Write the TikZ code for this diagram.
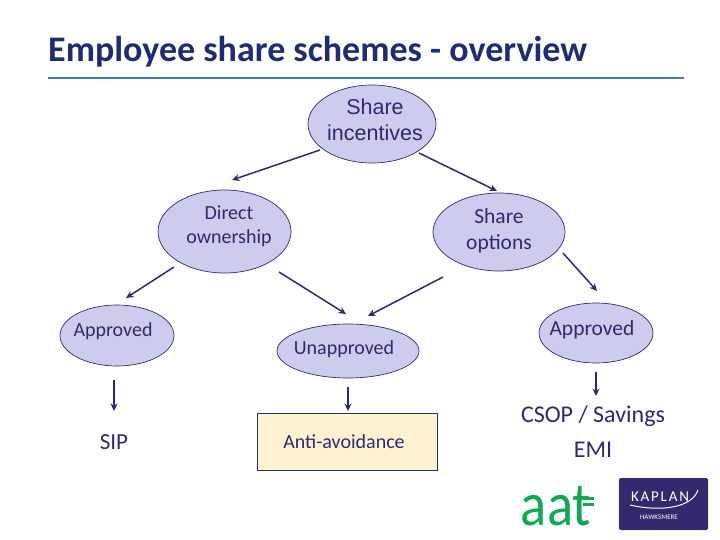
\documentclass[tikz,border=0pt]{standalone}
\usepackage{fontspec}
\setmainfont{Carlito}
\newfontfamily\arialfont{Liberation Sans}
\usetikzlibrary{shapes.geometric,arrows.meta}
\definecolor{navytext}{HTML}{2D2A70}
\definecolor{titleblue}{HTML}{1F2C72}
\definecolor{rulecol}{HTML}{3F80A0}
\definecolor{ovalfill}{HTML}{CCCCEE}
\definecolor{boxfill}{HTML}{FFF2D0}
\definecolor{aatgreen}{HTML}{10A850}
\definecolor{kaplanblue}{HTML}{35286E}
\tikzset{
  oval/.style={ellipse,draw=navytext,line width=0.7pt,fill=ovalfill,inner sep=0pt},
  ovaltext/.style={text=navytext,align=center,inner sep=0pt,font=\fontsize{20}{24}\selectfont},
  plaintext/.style={text=navytext,align=center,inner sep=0pt,font=\fontsize{24}{28}\selectfont},
  arrow/.style={draw=navytext,line width=1.5pt,-{Stealth[length=7.5pt,width=7pt]}}
}
\begin{document}
\begin{tikzpicture}[x=1pt,y=-1pt]
	\useasboundingbox (0,0) rectangle (720,540);
	% heading
	\node[anchor=base west,inner sep=0pt,text=titleblue,font=\fontsize{36}{40}\selectfont\bfseries] (title) at (48,61.5) {Employee share schemes - overview};
	\coordinate (ruleL) at (48,78);
	\coordinate (ruleR) at (684,78);
	\draw[rulecol,line width=1.5pt] (ruleL)--(ruleR);

	% the tree
	\node[oval,minimum width=128pt,minimum height=78pt,label={[ovaltext,font=\arialfont\fontsize{21.5}{26.5}\selectfont,xshift=3pt,yshift=4pt]center:{Share\\incentives}}] (incentives) at (372,124) {};
	\node[oval,minimum width=133pt,minimum height=83pt,label={[ovaltext,xshift=4.5pt,yshift=5pt]center:{Direct\\ownership}}] (direct) at (224.5,231.5) {};
	\node[oval,minimum width=132pt,minimum height=78pt,label={[ovaltext,font=\fontsize{21.5}{26}\selectfont,yshift=1pt]center:{Share\\options}}] (options) at (499,232) {};
	\node[oval,minimum width=114pt,minimum height=61pt,label={[ovaltext,xshift=-4pt,yshift=4pt]center:{Approved}}] (approvedL) at (117,335.5) {};
	\node[oval,minimum width=142pt,minimum height=54pt,label={[ovaltext,xshift=-4pt,yshift=2pt]center:{Unapproved}}] (unapproved) at (348,351) {};
	\node[oval,minimum width=114pt,minimum height=60pt,label={[ovaltext,font=\fontsize{21.5}{26}\selectfont,xshift=-4pt,yshift=3pt]center:{Approved}}] (approvedR) at (596,333) {};
	\node[draw=navytext,line width=0.7pt,fill=boxfill,minimum width=180pt,minimum height=57pt,inner sep=0pt,text=navytext,font=\fontsize{20}{24}\selectfont,text width=176pt,align=center] (avoid) at (347,441.5) {\hspace*{-6pt}Anti-avoidance};
	\node[plaintext,font=\fontsize{23}{27}\selectfont] (sip) at (114,442) {SIP};
	\node[plaintext] (csop) at (593,416) {CSOP / Savings};
	\node[plaintext] (emi) at (593,450) {EMI};

	% arrow ends
	\coordinate (a1) at (320,150);
	\coordinate (b1) at (232,180);
	\coordinate (a2) at (419,153);
	\coordinate (b2) at (497,191);
	\coordinate (a3) at (174,267);
	\coordinate (b3) at (126,298);
	\coordinate (a4) at (279,272);
	\coordinate (b4) at (346,314);
	\coordinate (a5) at (443,277);
	\coordinate (b5) at (368,316);
	\coordinate (a6) at (563,253);
	\coordinate (b6) at (597,291);
	\coordinate (a7) at (114,380);
	\coordinate (b7) at (114,411);
	\coordinate (a8) at (348,387);
	\coordinate (b8) at (348,411);
	\coordinate (a9) at (596,372);
	\coordinate (b9) at (596,396);
	\foreach \i in {1,...,9}
		\draw[arrow] (a\i)--(b\i);

	% logos
	\node[anchor=base,inner sep=0pt,text=aatgreen,xscale=0.88,transform shape,font=\fontsize{62}{62}\selectfont] (aat) at (556,525) {aat};
	\fill[aatgreen] (583,497) rectangle (594,499.5);
	\fill[aatgreen] (583,503) rectangle (594,505.5);
	\fill[kaplanblue,rounded corners=2pt] (619,478) rectangle (708,530);
	\node[inner sep=0pt,text=white,font=\addfontfeature{LetterSpace=12}\fontsize{15}{15}\selectfont] (kaplan) at (660,497) {KAPLAN};
	\draw[white,line width=1pt] (630,505) .. controls (660,512) and (692,508) .. (698,490);
	\node[inner sep=0pt,text=white,font=\fontsize{7}{7}\selectfont] (hawksmere) at (659,517) {HAWKSMERE};
\end{tikzpicture}
\end{document}
